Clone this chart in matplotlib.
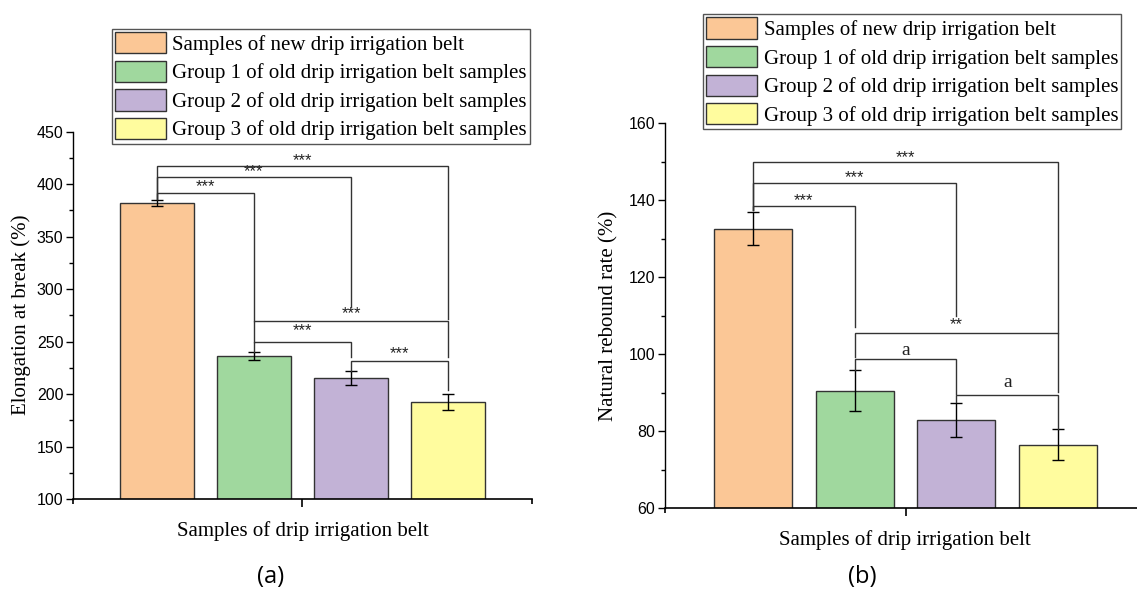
import matplotlib

matplotlib.use("Agg")
import matplotlib.pyplot as plt
import numpy as np

W, H = 1137, 590

GROUPS = [
    "Samples of new drip irrigation belt",
    "Group 1 of old drip irrigation belt samples",
    "Group 2 of old drip irrigation belt samples",
    "Group 3 of old drip irrigation belt samples",
]
COLORS = ["#fbc796", "#a0d89e", "#c2b2d6", "#fffc9e"]

elong = [382, 236.5, 215, 192]
elong_err = [3.0, 4.0, 6.7, 7.6]
rebound = [132.6, 90.5, 83.0, 76.5]
rebound_err = [4.3, 5.3, 4.4, 4.0]

# (bar i, bar j, bracket height, left leg end, right leg end, label, label y)
elong_brackets = [
    (0, 3, 417.6, 385.5, 271.5, "***", 422.0),
    (0, 2, 407.1, 385.5, 283.2, "***", 411.5),
    (0, 1, 391.9, 385.5, 269.3, "***", 397.6),
    (1, 3, 269.3, 249.3, 235.6, "***", 277.0),
    (1, 2, 249.3, 240.5, 235.6, "***", 260.0),
    (2, 3, 231.5, 222.0, 203.9, "***", 238.8),
]
rebound_brackets = [
    (0, 3, 149.9, 137.5, 105.6, "***", 151.2),
    (0, 2, 144.4, 137.5, 110.0, "***", 145.9),
    (0, 1, 138.4, 137.5, 107.2, "***", 140.0),
    (1, 3, 105.6, 99.4, 90.3, "**", 107.6),
    (1, 2, 98.7, 95.9, 89.6, "a", 101.1),
    (2, 3, 89.5, 87.5, 80.7, "a", 92.6),
]

SERIF = "Liberation Serif"
SANS = "Liberation Sans"
LINE = "#333333"


def _px(x0, y0, x1, y1):
    """Pixel box (top-left origin) to figure fraction rect."""
    return [x0 / W, 1 - y1 / H, (x1 - x0) / W, (y1 - y0) / H]


def _panel(ax, vals, errs, brackets, ylim, major, minor):
    x = np.arange(1, len(vals) + 1)
    bars = ax.bar(x, vals, width=0.766, color=COLORS, edgecolor=LINE,
                  linewidth=1.0, zorder=2)
    ax.errorbar(x, vals, yerr=errs, fmt="none", ecolor="black",
                elinewidth=1.0, capsize=4, capthick=1.0, zorder=3)
    for i, j, h, le, re, lab, ly in brackets:
        xi, xj = x[i], x[j]
        ax.plot([xi, xi, xj, xj], [le, h, h, re], color=LINE, lw=1.0,
                zorder=4, solid_joinstyle="miter")
        if lab == "a":
            ax.text((xi + xj) / 2, ly, lab, ha="center", va="center",
                    fontsize=14, family=SERIF, color="#222222")
        else:
            ax.text((xi + xj) / 2, ly, lab, ha="center", va="center",
                    fontsize=12, family=SANS, color="#222222")
    ax.set_xlim(0.14, 4.86)
    ax.set_ylim(*ylim)
    ax.set_yticks(np.arange(ylim[0], ylim[1] + 1, major))
    ax.set_yticks(np.arange(ylim[0], ylim[1] + 1, minor), minor=True)
    ax.set_xticks([2.5])
    ax.set_xticks([0.14, 4.86], minor=True)
    ax.set_xticklabels([])
    for s in ("top", "right"):
        ax.spines[s].set_visible(False)
    ax.spines["left"].set_linewidth(1.0)
    ax.spines["bottom"].set_linewidth(1.2)
    ax.tick_params(axis="y", which="major", direction="out", length=5,
                   width=1.0, labelsize=11.5, pad=2)
    ax.tick_params(axis="y", which="minor", direction="out", length=3,
                   width=1.0)
    ax.tick_params(axis="x", which="major", direction="out", length=6,
                   width=1.2)
    ax.tick_params(axis="x", which="minor", direction="out", length=3.5,
                   width=1.2)
    for t in ax.get_yticklabels():
        t.set_family(SANS)
    ax.set_facecolor("none")
    return bars


fig = plt.figure(figsize=(W / 100, H / 100), dpi=100)
axA = fig.add_axes(_px(73.3, 131.7, 531.7, 499))
axB = fig.add_axes(_px(665, 123.3, 1146, 508.3))

barsA = _panel(axA, elong, elong_err, elong_brackets, (100, 450), 50, 25)
barsB = _panel(axB, rebound, rebound_err, rebound_brackets, (60, 160), 20, 10)

leg_kw = dict(
    loc="upper left", prop={"family": SERIF, "size": 15},
    frameon=True, fancybox=False, framealpha=1, edgecolor="#555555",
    handlelength=2.45, handleheight=1.2, handletextpad=0.3,
    labelspacing=0.28, borderpad=0.15, borderaxespad=0,
)
legA = fig.legend(barsA.patches, GROUPS,
                  bbox_to_anchor=(111.7 / W, 1 - 29 / H), **leg_kw)
legB = fig.legend(barsB.patches, GROUPS,
                  bbox_to_anchor=(703.3 / W, 1 - 14.3 / H), **leg_kw)
for leg in (legA, legB):
    leg.get_frame().set_linewidth(1.0)

fig.text(21 / W, 1 - 315 / H, "Elongation at break (%)", rotation=90,
         ha="center", va="center", fontsize=15, family=SERIF)
fig.text(609 / W, 1 - 316 / H, "Natural rebound rate (%)", rotation=90,
         ha="center", va="center", fontsize=15, family=SERIF)
fig.text(302.5 / W, 1 - 531 / H, "Samples of drip irrigation belt",
         ha="center", va="center", fontsize=15, family=SERIF)
fig.text(905 / W, 1 - 540 / H, "Samples of drip irrigation belt",
         ha="center", va="center", fontsize=15, family=SERIF)
fig.text(271 / W, 1 - 577 / H, "(a)", ha="center", va="center",
         fontsize=17, family="Open Sans")
fig.text(862 / W, 1 - 577 / H, "(b)", ha="center", va="center",
         fontsize=17, family="Open Sans")

fig.savefig("out.png", dpi=100)
